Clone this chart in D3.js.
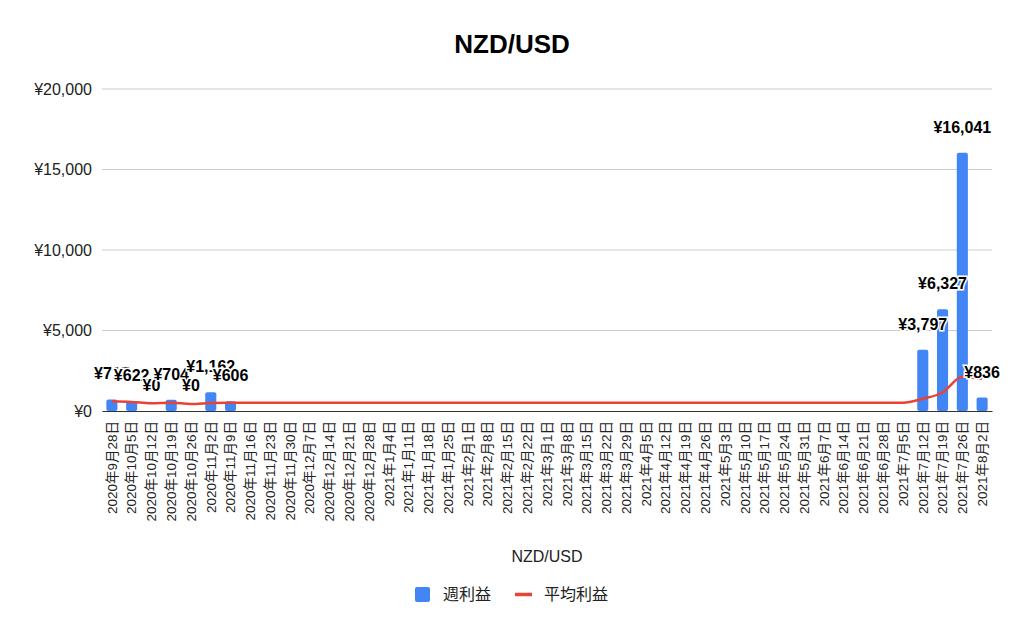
<!DOCTYPE html>
<html>
<head>
<meta charset="utf-8">
<script src="https://cdn.jsdelivr.net/npm/d3@7"></script>
<style>
  body { margin: 0; background: #fff; }
  text { font-family: "Liberation Sans", Arial, "Noto Sans CJK JP", sans-serif; }
</style>
</head>
<body>
<div id="chart"></div>
<script>
// weekly categories
const weeks = ["2020年9月28日","2020年10月5日","2020年10月12日","2020年10月19日","2020年10月26日",
  "2020年11月2日","2020年11月9日","2020年11月16日","2020年11月23日","2020年11月30日",
  "2020年12月7日","2020年12月14日","2020年12月21日","2020年12月28日","2021年1月4日",
  "2021年1月11日","2021年1月18日","2021年1月25日","2021年2月1日","2021年2月8日",
  "2021年2月15日","2021年2月22日","2021年3月1日","2021年3月8日","2021年3月15日",
  "2021年3月22日","2021年3月29日","2021年4月5日","2021年4月12日","2021年4月19日",
  "2021年4月26日","2021年5月3日","2021年5月10日","2021年5月17日","2021年5月24日",
  "2021年5月31日","2021年6月7日","2021年6月14日","2021年6月21日","2021年6月28日",
  "2021年7月5日","2021年7月12日","2021年7月19日","2021年7月26日","2021年8月2日"];
// 週利益 (null = no bar / no label)
const weeklyProfit = [715, 622, 0, 704, 0, 1162, 606,
  null, null, null, null, null, null, null, null, null, null, null, null, null,
  null, null, null, null, null, null, null, null, null, null, null, null, null,
  null, null, null, null, null, null, null, null,
  3797, 6327, 16041, 836];
// 平均利益
const avgProfit = [600, 560, 480, 520, 440, 500, 520,
  520, 520, 520, 520, 520, 520, 520, 520, 520, 520, 520, 520, 520,
  520, 520, 520, 520, 520, 520, 520, 520, 520, 520, 520, 520, 520,
  520, 520, 520, 520, 520, 520, 520, 520,
  760, 1150, 2120, 2000];
const yTicks = [0, 5000, 10000, 15000, 20000];

const width = 1024, height = 635;
const margin = {top: 89, right: 32, bottom: 224, left: 102};
const plotW = width - margin.left - margin.right;
const plotH = height - margin.top - margin.bottom;

const yen = v => "¥" + d3.format(",")(v);

const svg = d3.select("#chart").append("svg")
  .attr("width", width).attr("height", height);

// title
svg.append("text")
  .attr("x", width / 2).attr("y", 53)
  .attr("text-anchor", "middle")
  .style("font-size", "26px").style("font-weight", "bold").style("fill", "#000")
  .text("NZD/USD");

const g = svg.append("g").attr("transform", "translate(" + margin.left + "," + margin.top + ")");

const x = d3.scaleBand().domain(weeks).range([0, plotW]).paddingInner(0.44).paddingOuter(0.22);
const y = d3.scaleLinear().domain([0, 20000]).range([plotH, 0]);

// grid
g.append("g").selectAll("line")
  .data(yTicks.slice(1))
  .enter().append("line")
  .attr("x1", 0).attr("x2", plotW)
  .attr("y1", d => y(d)).attr("y2", d => y(d))
  .attr("stroke", "#cccccc").attr("stroke-width", 1);

// y axis labels
const yAxis = g.append("g").call(d3.axisLeft(y).tickValues(yTicks).tickFormat(yen).tickSize(0).tickPadding(10));
yAxis.select(".domain").remove();
yAxis.selectAll("text")
  .style("font-size", "16px").style("fill", "#222")
  .style("font-family", "'Liberation Sans', Arial, sans-serif");

// bars
const barData = weeks.map((w, i) => ({w: w, v: weeklyProfit[i]})).filter(d => d.v !== null);
g.append("g").selectAll("rect")
  .data(barData.filter(d => d.v > 0))
  .enter().append("rect")
  .attr("x", d => x(d.w))
  .attr("y", d => y(d.v))
  .attr("width", x.bandwidth())
  .attr("height", d => plotH - y(d.v))
  .attr("rx", 2)
  .attr("fill", "#4285f4");

// x axis
const xAxis = g.append("g").attr("transform", "translate(0," + plotH + ")")
  .call(d3.axisBottom(x).tickSize(0).tickPadding(0));
xAxis.select(".domain").attr("stroke", "#333").attr("stroke-width", 1.2);
xAxis.selectAll("text")
  .attr("transform", "rotate(-90)")
  .attr("text-anchor", "end")
  .attr("x", -10).attr("y", 0).attr("dy", "0.35em")
  .style("font-size", "13.5px").style("fill", "#222")
  .style("font-family", "'Liberation Sans', Arial, 'Noto Sans CJK JP', sans-serif");

// average line
const line = d3.line()
  .x((d, i) => x(weeks[i]) + x.bandwidth() / 2)
  .y(d => y(d))
  .curve(d3.curveMonotoneX);
g.append("path")
  .datum(avgProfit)
  .attr("d", line)
  .attr("fill", "none")
  .attr("stroke", "#ea4335")
  .attr("stroke-width", 2.5);

// data labels
g.append("g").selectAll("text")
  .data(barData)
  .enter().append("text")
  .attr("x", d => x(d.w) + x.bandwidth() / 2)
  .attr("y", d => y(d.v) - 20)
  .attr("text-anchor", "middle")
  .style("font-size", "16px").style("font-weight", "bold")
  .style("fill", "#000")
  .style("stroke", "#fff").style("stroke-width", 3).style("paint-order", "stroke")
  .text(d => yen(d.v));

// x axis title
svg.append("text")
  .attr("x", margin.left + plotW / 2).attr("y", 562)
  .attr("text-anchor", "middle")
  .style("font-size", "16px").style("fill", "#222")
  .text("NZD/USD");

// legend
const leg = svg.append("g");
leg.append("rect").attr("x", 415).attr("y", 587).attr("width", 15).attr("height", 15)
  .attr("rx", 2).attr("fill", "#4285f4");
leg.append("text").attr("x", 443).attr("y", 600)
  .style("font-size", "16px").style("fill", "#222").text("週利益");
leg.append("line").attr("x1", 515).attr("x2", 532).attr("y1", 594.5).attr("y2", 594.5)
  .attr("stroke", "#ea4335").attr("stroke-width", 3.5);
leg.append("text").attr("x", 544).attr("y", 600)
  .style("font-size", "16px").style("fill", "#222").text("平均利益");
</script>
</body>
</html>
